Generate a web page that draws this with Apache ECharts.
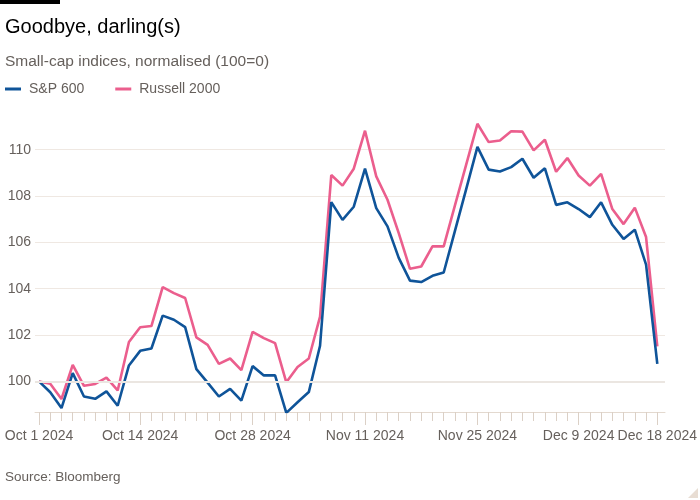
<!DOCTYPE html>
<html><head><meta charset="utf-8">
<script src="https://cdn.jsdelivr.net/npm/echarts@6/dist/echarts.min.js"></script>
<style>html,body{margin:0;padding:0;background:#fff}#c{width:700px;height:500px}</style>
</head><body><div id="c"></div>
<script>
const categories = [
  'Oct 1 2024','Oct 2 2024','Oct 3 2024','Oct 4 2024','Oct 7 2024','Oct 8 2024','Oct 9 2024','Oct 10 2024','Oct 11 2024',
  'Oct 14 2024','Oct 15 2024','Oct 16 2024','Oct 17 2024','Oct 18 2024','Oct 21 2024','Oct 22 2024','Oct 23 2024','Oct 24 2024','Oct 25 2024',
  'Oct 28 2024','Oct 29 2024','Oct 30 2024','Oct 31 2024','Nov 1 2024','Nov 4 2024','Nov 5 2024','Nov 6 2024','Nov 7 2024','Nov 8 2024',
  'Nov 11 2024','Nov 12 2024','Nov 13 2024','Nov 14 2024','Nov 15 2024','Nov 18 2024','Nov 19 2024','Nov 20 2024','Nov 21 2024','Nov 22 2024',
  'Nov 25 2024','Nov 26 2024','Nov 27 2024','Nov 29 2024','Dec 2 2024','Dec 3 2024','Dec 4 2024','Dec 5 2024','Dec 6 2024',
  'Dec 9 2024','Dec 10 2024','Dec 11 2024','Dec 12 2024','Dec 13 2024','Dec 16 2024','Dec 17 2024','Dec 18 2024'
];
const tickLabels = ['Oct 1 2024','Oct 14 2024','Oct 28 2024','Nov 11 2024','Nov 25 2024','Dec 9 2024','Dec 18 2024'];
const sp600 = [
  100.0, 99.53, 98.85, 100.36, 99.35, 99.25, 99.57, 98.95, 100.69, 101.32, 101.42, 102.84, 102.66, 102.34, 100.53,
  99.95, 99.35, 99.68, 99.17, 100.66, 100.26, 100.26, 98.64, 99.1, 99.54, 101.54,
  107.74, 106.97, 107.54, 109.18, 107.48, 106.69, 105.33, 104.35, 104.29, 104.56, 104.7,
  106.5, 108.3, 110.12, 109.14, 109.06, 109.25, 109.61, 108.79, 109.2, 107.62,
  107.73, 107.44, 107.09, 107.73, 106.76, 106.15, 106.55, 105.04, 100.76
];
const russell2000 = [
  100.0, 99.9, 99.24, 100.71, 99.81, 99.89, 100.16, 99.61, 101.7, 102.34, 102.39, 104.07, 103.81, 103.6, 101.9,
  101.58, 100.76, 100.99, 100.49, 102.14, 101.87, 101.65, 99.96, 100.62, 100.99, 102.8,
  108.91, 108.45, 109.18, 110.82, 108.85, 107.84, 106.4, 104.86, 104.96, 105.83, 105.83,
  107.6, 109.36, 111.12, 110.33, 110.4, 110.8, 110.78, 109.97, 110.43, 109.05,
  109.64, 108.89, 108.45, 108.96, 107.44, 106.79, 107.5, 106.23, 101.51
];
const yTicks = [100, 102, 104, 106, 108, 110];
const yMin = 98.68, yMax = 111.24, baseValue = 100;

const FONT = '"Liberation Sans", Arial, sans-serif';
const GREY = '#66605c';
const chart = echarts.init(document.getElementById('c'), null, {renderer: 'canvas'});
const gridTop = 121, gridBottom = 88;
const isLabel = (i, v) => tickLabels.includes(v);
const option = {
  animation: false,
  backgroundColor: '#fff',
  textStyle: {fontFamily: FONT},
  title: [
    {text: 'Goodbye, darling(s)', left: 0, top: 12, textStyle: {fontSize: 20, fontWeight: 'normal', color: '#000', fontFamily: FONT}},
    {text: 'Small-cap indices, normalised (100=0)', left: 0, top: 49, textStyle: {fontSize: 15.5, fontWeight: 'normal', color: GREY, fontFamily: FONT}},
    {text: 'Source: Bloomberg', left: 0, top: 465, textStyle: {fontSize: 13.5, fontWeight: 'normal', color: GREY, fontFamily: FONT}}
  ],
  legend: {
    data: ['S&P 600', 'Russell 2000'], left: 0, top: 77, icon: 'rect', itemWidth: 16, itemHeight: 3, itemGap: 31,
    textStyle: {fontSize: 14, color: GREY, fontFamily: FONT, padding: [0, 0, 0, 3]}
  },
  graphic: [
    {type: 'rect', left: 0, top: 0, shape: {width: 60, height: 4}, style: {fill: '#000'}},
    {type: 'polygon', right: 2, bottom: 2, shape: {points: [[10, 0], [10, 10], [0, 10]]}, style: {fill: '#e8ddd3'}}
  ],
  grid: [
    {left: 39, right: 40, top: gridTop, bottom: gridBottom},
    {left: 35, right: 35, top: gridTop, bottom: gridBottom}
  ],
  xAxis: [
    {type: 'category', gridIndex: 0, data: categories, boundaryGap: false, axisLine: {show: false},
     axisTick: {show: true, interval: 0, length: 9, lineStyle: {color: '#dbd0c6'}}, axisLabel: {show: false}, splitLine: {show: false}},
    {type: 'category', gridIndex: 0, data: categories, boundaryGap: false, position: 'bottom', axisLine: {show: false},
     axisTick: {show: true, length: 13, interval: isLabel, lineStyle: {color: '#dbd0c6'}},
     axisLabel: {interval: isLabel, margin: 17, fontSize: 14, color: GREY, fontFamily: FONT}, splitLine: {show: false}},
    {type: 'value', gridIndex: 1, min: 0, max: 1, axisLine: {show: true, onZero: false, lineStyle: {color: '#e3d9cf'}},
     axisTick: {show: false}, axisLabel: {show: false}, splitLine: {show: false}}
  ],
  yAxis: [
    {type: 'value', gridIndex: 0, min: yMin, max: yMax, show: false, splitLine: {show: false}},
    {type: 'value', gridIndex: 1, min: yMin, max: yMax, minInterval: 2, maxInterval: 2, splitNumber: 6,
     axisLine: {show: false}, axisTick: {show: false},
     axisLabel: {showMinLabel: false, showMaxLabel: false, margin: 4, fontSize: 14, color: GREY, fontFamily: FONT,
                 formatter: v => (yTicks.includes(Math.round(v * 100) / 100) ? String(Math.round(v)) : '')},
     splitLine: {show: true, showMinLine: false, showMaxLine: false, lineStyle: {color: '#efe8e2', width: 1}}}
  ],
  series: [
    {type: 'line', xAxisIndex: 2, yAxisIndex: 1, data: [], silent: true,
     markLine: {silent: true, symbol: 'none', label: {show: false}, animation: false,
                lineStyle: {color: '#ebe6e1', width: 2, type: 'solid'}, data: [{yAxis: baseValue}]}},
    {name: 'Russell 2000', type: 'line', xAxisIndex: 0, yAxisIndex: 0, data: russell2000, symbol: 'none',
     lineStyle: {width: 2.6, color: '#eb5e8d'}, itemStyle: {color: '#eb5e8d'}},
    {name: 'S&P 600', type: 'line', xAxisIndex: 0, yAxisIndex: 0, data: sp600, symbol: 'none',
     lineStyle: {width: 2.6, color: '#0f5499'}, itemStyle: {color: '#0f5499'}}
  ]
};
chart.setOption(option);
</script>
</body></html>
